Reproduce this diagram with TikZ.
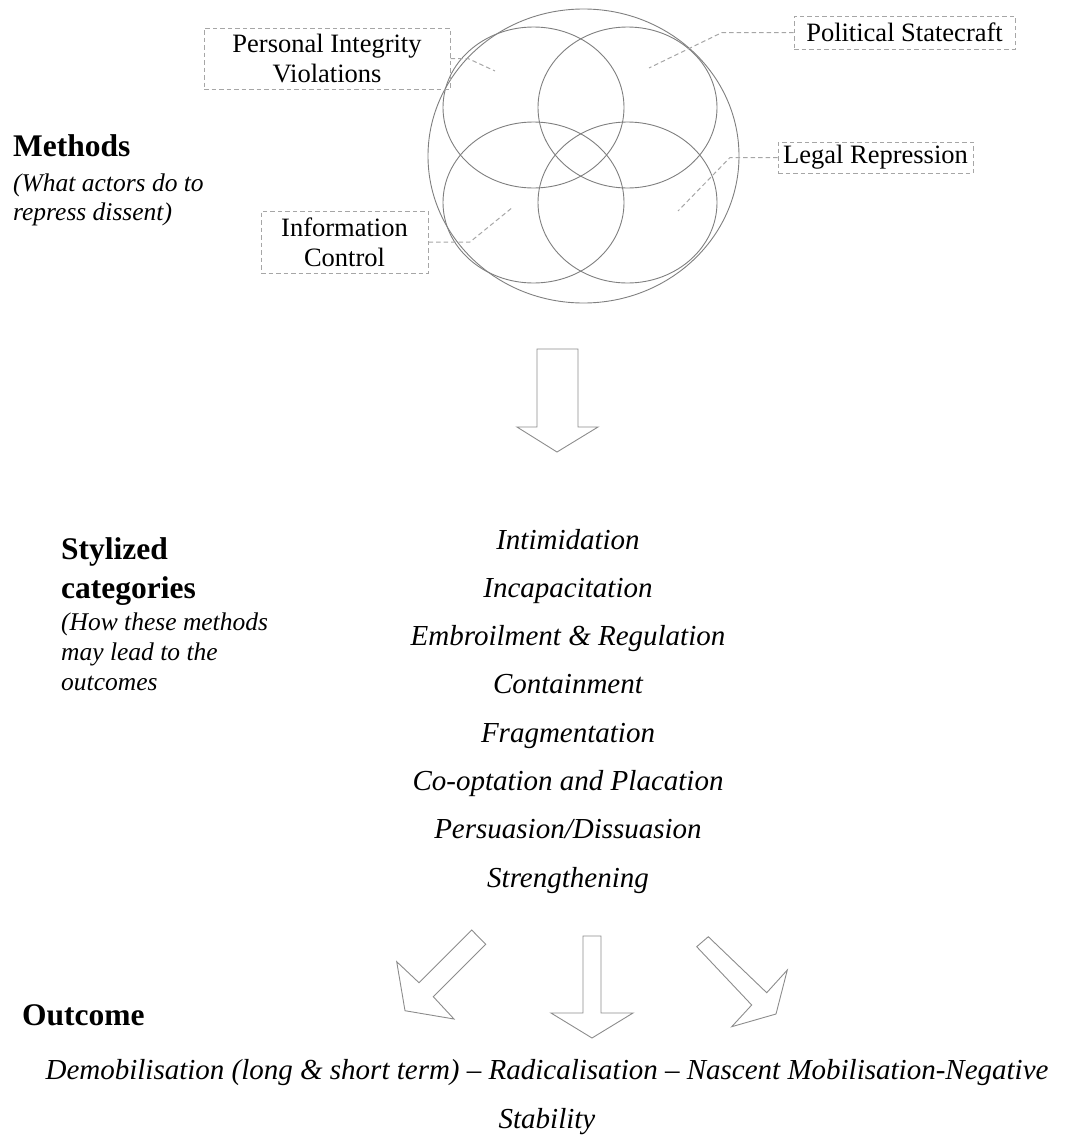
\documentclass[tikz,border=0pt]{standalone}
\usepackage{fontspec}
\setmainfont{Liberation Serif}
\usetikzlibrary{shapes.geometric}
\definecolor{circgray}{HTML}{7F7F7F}
\definecolor{boxgray}{HTML}{A6A6A6}
\definecolor{arrgray}{HTML}{8C8C8C}
\begin{document}
\begin{tikzpicture}[x=1pt,y=-1pt,
  venn/.style={draw=circgray, line width=0.9pt, ellipse, inner sep=0pt},
  lbox/.style={draw=boxgray, dash pattern=on 4.5pt off 3pt, line width=1pt, inner sep=0pt,
    align=center, font=\fontsize{26.5}{30}\selectfont},
  conn/.style={draw=boxgray, dash pattern=on 4.5pt off 3pt, line width=1pt},
  item/.style={font=\fontsize{29}{34}\selectfont\itshape, inner sep=0pt, anchor=base},
  btitle/.style={font=\fontsize{31.5}{38}\selectfont\bfseries, inner sep=0pt, anchor=base west},
  sub/.style={font=\fontsize{25.5}{30}\selectfont\itshape, inner sep=0pt, anchor=base west},
  barrow/.style={draw=arrgray, line width=0.9pt, line join=miter}
]
\useasboundingbox (0,0) rectangle (1066,1138);

% Venn circles
\node[venn, minimum width=311pt, minimum height=294pt] (outer) at (583.5,156) {};
\node[venn, minimum width=181pt, minimum height=161pt] (ctl) at (533.5,107.5) {};
\node[venn, minimum width=179pt, minimum height=161pt] (ctr) at (627.5,107.5) {};
\node[venn, minimum width=181pt, minimum height=161pt] (cbl) at (533.5,202.5) {};
\node[venn, minimum width=179pt, minimum height=161pt] (cbr) at (627.5,202.5) {};

% Labels of methods
\node[lbox, minimum width=246pt, minimum height=61pt] (pi) at (327,58.5) {Personal Integrity\\Violations};
\node[lbox, minimum width=167pt, minimum height=62pt] (ic) at (344.5,242) {Information\\Control};
\node[lbox, minimum width=221pt, minimum height=33pt] (ps) at (904.5,32.5) {Political Statecraft};
\node[lbox, minimum width=195pt, minimum height=31pt] (lr) at (875.5,157.5) {Legal Repression};

\coordinate (pi1) at (468,58.5);  \coordinate (pi2) at (495,71);
\coordinate (ic1) at (470,242);   \coordinate (ic2) at (513,207);
\coordinate (ps1) at (722,32.5);  \coordinate (ps2) at (649,68);
\coordinate (lr1) at (730,157.5); \coordinate (lr2) at (678,211);
\draw[conn] (pi.east) -- (pi1) -- (pi2);
\draw[conn] (ic.east) -- (ic1) -- (ic2);
\draw[conn] (ps.west) -- (ps1) -- (ps2);
\draw[conn] (lr.west) -- (lr1) -- (lr2);

% Left titles
\node[btitle] (t1) at (13,156.7) {Methods};
\node[sub] (s1a) at (13,191.5) {(What actors do to};
\node[sub] (s1b) at (13,220) {repress dissent)};

\node[btitle] (t2) at (61,559) {Stylized};
\node[btitle] (t2b) at (61,598.3) {categories};
\node[sub] (s2a) at (61,630) {(How these methods};
\node[sub] (s2b) at (61,660.3) {may lead to the};
\node[sub] (s2c) at (61,690.6) {outcomes};

\node[btitle] (t3) at (22,1025) {Outcome};

% Top block arrow
\draw[barrow] (537,349) -- (578,349) -- (578,427) -- (598,427) -- (557,452) -- (517,427) -- (537,427) -- cycle;

% Stylized categories
\node[item] (m1) at (568,549) {Intimidation};
\node[item] (m2) at (568,597.3) {Incapacitation};
\node[item] (m3) at (568,645.6) {Embroilment \& Regulation};
\node[item] (m4) at (568,693.9) {Containment};
\node[item] (m5) at (568,742.2) {Fragmentation};
\node[item] (m6) at (568,790.5) {Co-optation and Placation};
\node[item] (m7) at (568,838.8) {Persuasion/Dissuasion};
\node[item] (m8) at (568,887.1) {Strengthening};

% Bottom block arrows
\draw[barrow] (471.7,930) -- (419,982.7) -- (396.7,961.7) -- (405,1010.7) -- (454,1019) -- (433.3,996.7) -- (485.7,944.3) -- cycle;
\draw[barrow] (583,936) -- (601,936) -- (601,1013) -- (633,1013) -- (592,1038) -- (551,1013) -- (583,1013) -- cycle;
\draw[barrow] (708.3,936.7) -- (766.7,992.7) -- (787.3,970) -- (776,1014) -- (731.7,1026.7) -- (751.7,1005) -- (696.7,946.7) -- cycle;

% Outcome text
\node[font=\fontsize{29}{48.3}\selectfont\itshape, inner sep=0pt, align=center, anchor=base] (out) at (547,1128)
  {Demobilisation (long \& short term) -- Radicalisation -- Nascent Mobilisation-Negative\\Stability};
\end{tikzpicture}
\end{document}
